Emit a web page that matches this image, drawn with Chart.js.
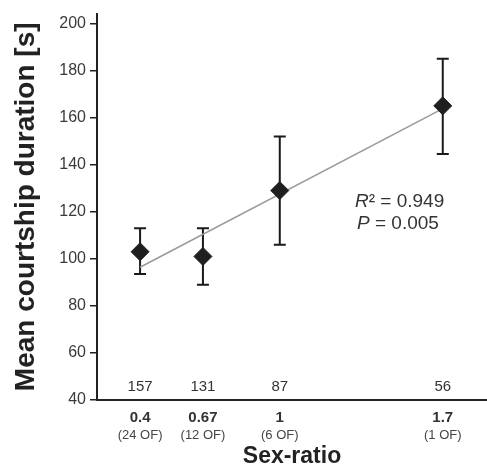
<!DOCTYPE html>
<html>
<head>
<meta charset="utf-8">
<script src="https://cdn.jsdelivr.net/npm/chart.js@4/dist/chart.umd.min.js"></script>
<style>
  html, body { margin: 0; padding: 0; background: #fff; }
  #wrap { width: 487px; height: 471px; }
</style>
</head>
<body>
<div id="wrap"><canvas id="courtshipChart" width="487" height="471"></canvas></div>
<script>
const sexRatio = [0.4, 0.67, 1, 1.7];
const offspring = ["(24 OF)", "(12 OF)", "(6 OF)", "(1 OF)"];
const meanDuration = [103, 101, 129, 165];
const errUpper = [113, 113, 152, 185];
const errLower = [93.5, 89, 106, 144.5];
const sampleN = [157, 131, 87, 56];
const fitX = [0.4, 1.7];
const fitY = [96.4, 163.8];
const yTicks = [40, 60, 80, 100, 120, 140, 160, 180, 200];

const FONT = "'Liberation Sans', Arial, Helvetica, sans-serif";

// error bars + text that chart.js has no element for
const extras = {
  id: "extras",
  beforeDatasetsDraw(chart) {
    const ctx = chart.ctx;
    const xs = chart.scales.x, ys = chart.scales.y;
    ctx.save();
    ctx.strokeStyle = "#1a1a1a";
    ctx.lineWidth = 2;
    sexRatio.forEach((v, i) => {
      const x = xs.getPixelForValue(v);
      const top = ys.getPixelForValue(errUpper[i]);
      const bot = ys.getPixelForValue(errLower[i]);
      ctx.beginPath();
      ctx.moveTo(x, top); ctx.lineTo(x, bot);
      ctx.moveTo(x - 6, top); ctx.lineTo(x + 6, top);
      ctx.moveTo(x - 6, bot); ctx.lineTo(x + 6, bot);
      ctx.stroke();
    });
    ctx.restore();
  },
  afterDraw(chart) {
    const ctx = chart.ctx;
    const xs = chart.scales.x, ys = chart.scales.y;
    const base = chart.chartArea.bottom;
    ctx.save();
    ctx.textAlign = "center";
    ctx.textBaseline = "middle";
    sexRatio.forEach((v, i) => {
      const x = xs.getPixelForValue(v);
      ctx.fillStyle = "#333";
      ctx.font = "15px " + FONT;
      ctx.fillText(String(sampleN[i]), x, base - 13);
      ctx.font = "bold 15px " + FONT;
      ctx.fillText(String(v), x, base + 18);
      ctx.font = "13px " + FONT;
      ctx.fillStyle = "#444";
      ctx.fillText(offspring[i], x, base + 35);
    });

    // R² / P annotation
    const ax = xs.getPixelForValue(1.323);
    const ay = ys.getPixelForValue(124.4);
    ctx.textAlign = "left";
    ctx.fillStyle = "#333";
    ctx.font = "italic 19px " + FONT;
    ctx.fillText("R", ax, ay);
    let w = ctx.measureText("R").width;
    ctx.font = "19px " + FONT;
    ctx.fillText("² = 0.949", ax + w, ay);
    ctx.font = "italic 19px " + FONT;
    ctx.fillText("P", ax + 2, ay + 22);
    w = ctx.measureText("P").width;
    ctx.font = "19px " + FONT;
    ctx.fillText(" = 0.005", ax + 2 + w, ay + 22);
    ctx.restore();
  }
};

const ctx = document.getElementById("courtshipChart").getContext("2d");
new Chart(ctx, {
  type: "scatter",
  data: {
    datasets: [
      {
        data: sexRatio.map((x, i) => ({ x: x, y: meanDuration[i] })),
        pointStyle: "rectRot",
        pointRadius: 9,
        pointHoverRadius: 9,
        backgroundColor: "#1f1f1f",
        borderColor: "#1f1f1f",
        borderWidth: 1,
        order: 1
      },
      {
        type: "line",
        data: fitX.map((x, i) => ({ x: x, y: fitY[i] })),
        borderColor: "#9a9a9a",
        borderWidth: 1.5,
        pointRadius: 0,
        fill: false,
        order: 2
      }
    ]
  },
  options: {
    responsive: false,
    animation: false,
    layout: { autoPadding: false, padding: { left: 0, right: 0, top: 10, bottom: 0 } },
    plugins: { legend: { display: false }, tooltip: { enabled: false } },
    scales: {
      x: {
        type: "linear",
        min: 0.215,
        max: 1.89,
        grid: { display: false },
        border: { color: "#222", width: 2 },
        ticks: { display: false },
        title: {
          display: true,
          text: "Sex-ratio",
          color: "#222",
          font: { family: FONT, size: 23, weight: "bold" },
          padding: { top: 0, bottom: 1 }
        },
        afterFit(scale) { scale.height = 71; }
      },
      y: {
        min: 40,
        max: 204.2,
        afterBuildTicks(scale) { scale.ticks = yTicks.map(v => ({ value: v })); },
        grid: { drawOnChartArea: false, tickLength: 7, color: "#222", lineWidth: 1.5 },
        border: { color: "#222", width: 2 },
        ticks: {
          color: "#3a3a3a",
          padding: 4,
          font: { family: FONT, size: 16 }
        },
        title: {
          display: true,
          text: "Mean courtship duration [s]",
          color: "#222",
          font: { family: FONT, size: 28, weight: "bold" },
          padding: { top: 9, bottom: 0 }
        },
        afterFit(scale) { scale.width = 97; }
      }
    }
  },
  plugins: [extras]
});
</script>
</body>
</html>
